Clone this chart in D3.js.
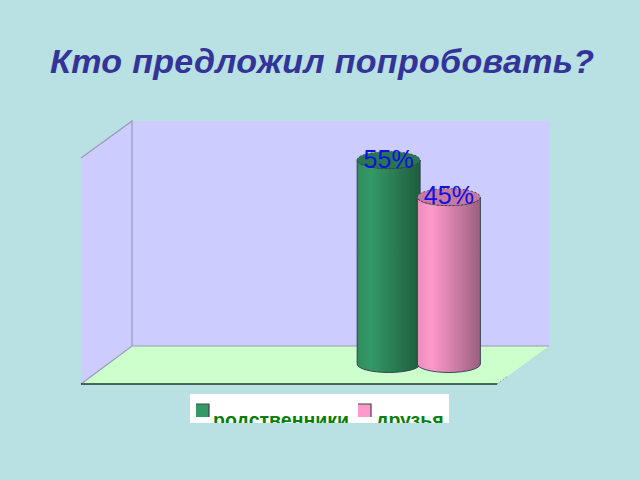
<!DOCTYPE html>
<html><head><meta charset="utf-8">
<script src="https://cdn.jsdelivr.net/npm/d3@7/dist/d3.min.js"></script>
<style>html,body{margin:0;padding:0;background:#b9e0e2;overflow:hidden}svg{display:block}</style>
</head><body><svg id="c" width="640" height="480"></svg>
<script>
const titleText = "Кто предложил попробовать?";
const categories = ["родственники", "друзья"];
const values = [55, 45];
const labels = ["55%", "45%"];
const colors = ["#339966", "#ff99cc"];
const darks = ["#1f5c3e", "#99607c"];

const svg = d3.select("#c");
const defs = svg.append("defs");
const x = d3.scaleBand().domain(categories).range([358.5, 479]);
const y = d3.scaleLinear().domain([0, 55]).range([364, 160]);
const rx = 31.5, ry = 8.5;

svg.append("text").attr("x", 322).attr("y", 73).attr("text-anchor", "middle")
  .attr("font-family", "Liberation Sans").attr("font-weight", "bold").attr("font-style", "italic")
  .attr("font-size", 34).attr("textLength", 544).attr("lengthAdjust", "spacing")
  .attr("fill", "#333399").text(titleText);

// walls
const line = d3.line();
svg.append("path").attr("d", line([[81,158],[132,121],[132,346],[81,384]])+"Z").attr("fill", "#ccccff");
svg.append("path").attr("d", line([[132,121],[549,121],[549,346],[132,346]])+"Z").attr("fill", "#ccccff");
svg.append("path").attr("d", line([[81,384],[132,346],[549,346],[497,384]])+"Z").attr("fill", "#ccffcc");
svg.append("path").attr("d", line([[81,158],[132,121],[132,346]])).attr("fill","none").attr("stroke", "#9a9ab8").attr("stroke-width", 1.2);
svg.append("path").attr("d", line([[81,384],[132,346],[549,346]])).attr("fill","none").attr("stroke", "#9a9ab8").attr("stroke-width", 1.2);
svg.append("path").attr("d", line([[81,384],[497,384]])).attr("stroke", "#1c3a2a").attr("stroke-width", 1.3);
svg.append("path").attr("d", line([[497,384],[508,376]])).attr("stroke", "#7a9a8a").attr("stroke-dasharray","1.5 2");

// cylinders
categories.forEach((c, i) => {
  const cx = x(c) + x.bandwidth() / 2, y0 = y(0), y1 = y(values[i]);
  const g = defs.append("linearGradient").attr("id", "g" + i);
  g.append("stop").attr("offset", 0).attr("stop-color", d3.interpolateRgb(colors[i], darks[i])(0.2));
  g.append("stop").attr("offset", 0.22).attr("stop-color", colors[i]);
  g.append("stop").attr("offset", 1).attr("stop-color", darks[i]);
  const side = `M${cx-rx},${y1} L${cx-rx},${y0} A${rx},${ry} 0 0 0 ${cx+rx},${y0} L${cx+rx},${y1} A${rx},${ry} 0 0 1 ${cx-rx},${y1}Z`;
  svg.append("path").attr("d", side).attr("fill", `url(#g${i})`).attr("stroke", "#2c3a4c").attr("stroke-width", 0.9);
  svg.append("ellipse").attr("cx", cx).attr("cy", y1).attr("rx", rx).attr("ry", ry)
    .attr("fill", d3.interpolateRgb(colors[i], darks[i])(0.55))
    .attr("stroke", "#2c3a4c").attr("stroke-width", 0.8).attr("stroke-dasharray", "2 2");
});
categories.forEach((c, i) => {
  const cx = x(c) + x.bandwidth() / 2, y1 = y(values[i]);
  svg.append("text").attr("x", cx).attr("y", y1 + 8).attr("text-anchor", "middle").attr("dy", i ? -1 : 0)
    .attr("font-family", "Liberation Sans").attr("font-size", 25).attr("fill", "#1010e0").text(labels[i]);
});

// legend (text is cut by the box's lower edge)
const clip = defs.append("clipPath").attr("id", "lg");
clip.append("rect").attr("x", 190).attr("y", 394).attr("width", 259).attr("height", 29);
const lg = svg.append("g").attr("clip-path", "url(#lg)");
lg.append("rect").attr("x", 190).attr("y", 394).attr("width", 259).attr("height", 29).attr("fill", "#fff");
const legX = d3.scaleOrdinal().domain(categories).range([196, 358]);
const txtX = d3.scaleOrdinal().domain(categories).range([213, 376]);
categories.forEach((c, i) => {
  lg.append("rect").attr("x", legX(c)).attr("y", 404).attr("width", 13).attr("height", 13)
    .attr("fill", colors[i]);
  lg.append("path").attr("d", line([[legX(c),404],[legX(c)+13,404],[legX(c)+13,417]])).attr("fill","none")
    .attr("stroke", "#444").attr("stroke-width", 1.2);
  lg.append("text").attr("x", txtX(c)).attr("y", 427)
    .attr("font-family", "Liberation Sans").attr("font-weight", "bold").attr("font-size", 19.5)
    .attr("fill", "#068006").text(c);
});
</script></body></html>
